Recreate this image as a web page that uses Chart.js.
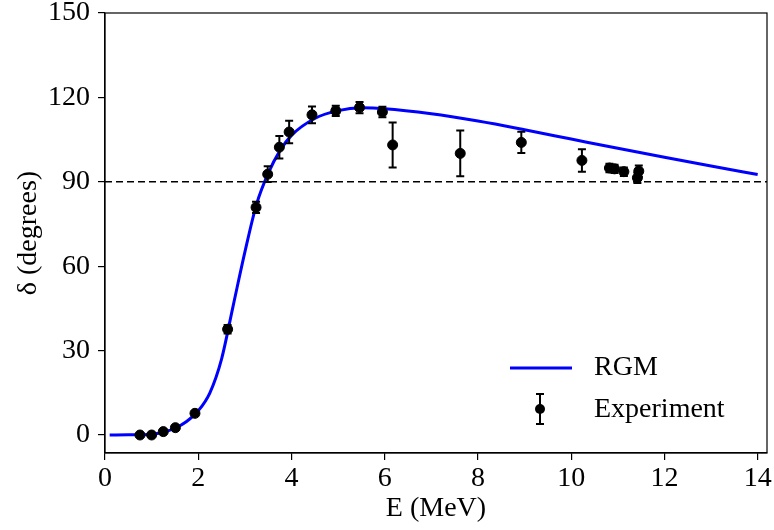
<!DOCTYPE html>
<html>
<head>
<meta charset="utf-8">
<script src="https://cdn.jsdelivr.net/npm/chart.js@4.4.0/dist/chart.umd.min.js"></script>
<style>
  body { margin: 0; background: #fff; }
  #wrap { width: 774px; height: 530px; }
</style>
</head>
<body>
<div id="wrap"><canvas id="c"></canvas></div>
<script>
// RGM phase shift curve
var rgmE = [0.1, 0.5, 1.0, 1.25, 1.5, 1.75, 2.0, 2.25, 2.5, 2.75, 3.0, 3.25, 3.5, 3.75, 4.0, 4.5, 5.0, 5.5, 6.0, 7.0, 8.0, 9.0, 10.0, 11.0, 12.0, 13.0, 14.0];
var rgmD = [0, 0.05, 0.3, 1.0, 2.4, 4.8, 8.6, 15, 27, 46, 65, 82, 93, 101, 106.5, 112.5, 115.3, 116.3, 116.0, 114.2, 111.6, 108.5, 105.2, 101.9, 98.7, 95.6, 92.6];

// experiment points with errors
var expE = [0.75, 1.0, 1.25, 1.51, 1.93, 2.63, 3.24, 3.49, 3.74, 3.95, 4.44, 4.95, 5.46, 5.95, 6.17, 7.62, 8.93, 10.23, 10.82, 10.93, 11.13, 11.42, 11.45];
var expD = [0, 0, 1.2, 2.6, 7.7, 37.6, 80.9, 92.7, 102.3, 107.7, 113.8, 115.2, 116.4, 114.8, 103.1, 100.1, 104.0, 97.6, 94.9, 94.6, 93.6, 91.4, 93.8];
var expErr = [0.5, 0.5, 0.5, 0.6, 0.8, 1.5, 2, 2.8, 4, 4, 3, 1.8, 2, 1.9, 8, 8.1, 3.8, 4, 1.5, 1.5, 1.5, 1.8, 2];

var xTicks = [0, 2, 4, 6, 8, 10, 12, 14];
var yTicks = [0, 30, 60, 90, 120, 150];
var refLine = 90;

var FONT = "'Liberation Serif', 'DejaVu Serif', serif";

var rgmPts = rgmE.map(function (e, i) { return { x: e, y: rgmD[i] }; });
var expPts = expE.map(function (e, i) { return { x: e, y: expD[i] }; });

// error bars + box + legend
var extras = {
    id: 'extras',
    afterDatasetsDraw: function (chart) {
        var ctx = chart.ctx;
        var xs = chart.scales.x, ys = chart.scales.y;
        ctx.save();
        ctx.strokeStyle = '#000';
        ctx.lineWidth = 2;
        for (var i = 0; i < expE.length; i++) {
            var px = xs.getPixelForValue(expE[i]);
            var top = ys.getPixelForValue(expD[i] + expErr[i]);
            var bot = ys.getPixelForValue(expD[i] - expErr[i]);
            ctx.beginPath();
            ctx.moveTo(px, top); ctx.lineTo(px, bot);
            ctx.moveTo(px - 4, top); ctx.lineTo(px + 4, top);
            ctx.moveTo(px - 4, bot); ctx.lineTo(px + 4, bot);
            ctx.stroke();
        }
        ctx.restore();
    },
    afterDraw: function (chart) {
        var ctx = chart.ctx;
        var a = chart.chartArea;
        ctx.save();
        // frame
        ctx.strokeStyle = '#000';
        ctx.lineWidth = 1.2;
        ctx.strokeRect(a.left, a.top, a.right - a.left, a.bottom - a.top);

        // legend
        ctx.strokeStyle = '#0000ff';
        ctx.lineWidth = 3;
        ctx.beginPath();
        ctx.moveTo(510, 368); ctx.lineTo(572, 368);
        ctx.stroke();

        ctx.strokeStyle = '#000';
        ctx.lineWidth = 2;
        ctx.beginPath();
        ctx.moveTo(540, 394); ctx.lineTo(540, 424);
        ctx.moveTo(536, 394); ctx.lineTo(544, 394);
        ctx.moveTo(536, 424); ctx.lineTo(544, 424);
        ctx.stroke();
        ctx.fillStyle = '#000';
        ctx.beginPath();
        ctx.arc(540, 409, 5, 0, Math.PI * 2);
        ctx.fill();

        ctx.font = '28px ' + FONT;
        ctx.textBaseline = 'middle';
        ctx.textAlign = 'left';
        ctx.fillText('RGM', 594, 368);
        ctx.fillText('Experiment', 594, 410);
        ctx.restore();
    }
};

new Chart(document.getElementById('c'), {
    type: 'scatter',
    data: {
        datasets: [{
            label: 'Experiment',
            data: expPts,
            backgroundColor: '#000',
            borderColor: '#000',
            pointRadius: 5,
            pointHoverRadius: 5,
            order: 0
        }, {
            label: 'RGM',
            type: 'line',
            data: rgmPts,
            borderColor: '#0000ff',
            borderWidth: 3,
            pointRadius: 0,
            fill: false,
            cubicInterpolationMode: 'monotone',
            order: 1
        }, {
            label: 'ref',
            type: 'line',
            data: [{ x: 0, y: refLine }, { x: 14.2, y: refLine }],
            borderColor: '#000',
            borderWidth: 1.5,
            borderDash: [7, 4],
            pointRadius: 0,
            fill: false,
            order: 2
        }]
    },
    options: {
        responsive: true,
        maintainAspectRatio: false,
        animation: false,
        events: [],
        layout: { padding: { left: 0, right: 7, top: 13, bottom: 0 } },
        plugins: {
            legend: { display: false },
            tooltip: { enabled: false }
        },
        scales: {
            x: {
                type: 'linear',
                min: 0,
                max: 14.2,
                afterBuildTicks: function (s) { s.ticks = xTicks.map(function (v) { return { value: v }; }); },
                afterFit: function (s) { s.height = 77; s.paddingLeft = 0; s.paddingRight = 0; },
                grid: { drawOnChartArea: false, drawTicks: true, tickLength: 7, color: '#000', lineWidth: 1.2 },
                border: { display: true, color: '#000', width: 1.2 },
                ticks: { color: '#000', padding: 2, maxRotation: 0, font: { family: FONT, size: 28 } },
                title: { display: true, text: 'E (MeV)', color: '#000', padding: { top: 0, bottom: 5 }, font: { family: FONT, size: 28 } }
            },
            y: {
                type: 'linear',
                min: -6.4,
                max: 150,
                afterBuildTicks: function (s) { s.ticks = yTicks.map(function (v) { return { value: v }; }); },
                afterFit: function (s) { s.width = 105; s.paddingTop = 0; s.paddingBottom = 0; },
                grid: { drawOnChartArea: false, drawTicks: true, tickLength: 7, color: '#000', lineWidth: 1.2 },
                border: { display: true, color: '#000', width: 1.2 },
                ticks: { color: '#000', padding: 8, font: { family: FONT, size: 28 } },
                title: { display: true, text: 'δ (degrees)', color: '#000', padding: { top: 12, bottom: 4 }, font: { family: FONT, size: 28 } }
            }
        }
    },
    plugins: [extras]
});
</script>
</body>
</html>
